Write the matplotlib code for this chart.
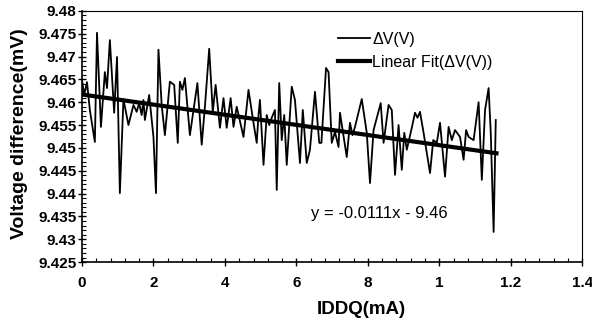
import numpy as np
import matplotlib
matplotlib.use('Agg')
import matplotlib.pyplot as plt
from matplotlib.ticker import FixedLocator, MultipleLocator

plt.rcParams['font.family'] = ['Liberation Sans', 'DejaVu Sans']

# IDDQ (mA) and voltage difference readings
iddq = [0.000, 0.006, 0.014, 0.022, 0.036, 0.042, 0.053, 0.064, 0.070, 0.078,
        0.090, 0.098, 0.106, 0.116, 0.130, 0.144, 0.153, 0.160, 0.167, 0.172,
        0.176, 0.188, 0.200, 0.207, 0.214, 0.223, 0.232, 0.246, 0.258, 0.268,
        0.274, 0.281, 0.288, 0.302, 0.323, 0.335, 0.344, 0.356, 0.366, 0.374,
        0.386, 0.396, 0.405, 0.416, 0.424, 0.433, 0.452, 0.466, 0.480, 0.489,
        0.494, 0.498, 0.508, 0.517, 0.524, 0.531, 0.540, 0.545, 0.552, 0.559,
        0.566, 0.573, 0.587, 0.596, 0.610, 0.618, 0.629, 0.638, 0.652, 0.664,
        0.670, 0.683, 0.690, 0.699, 0.708, 0.718, 0.722, 0.741, 0.750, 0.757,
        0.764, 0.783, 0.797, 0.806, 0.816, 0.836, 0.844, 0.858, 0.867, 0.876,
        0.886, 0.895, 0.902, 0.909, 0.923, 0.932, 0.939, 0.946, 0.956, 0.974,
        0.983, 0.993, 1.002, 1.016, 1.026, 1.035, 1.044, 1.058, 1.068, 1.075,
        1.082, 1.096, 1.110, 1.119, 1.128, 1.138, 1.144, 1.152, 1.158]
dv = [9.4649, 9.4616, 9.4644, 9.4583, 9.4513, 9.4752, 9.4546, 9.4666, 9.4631, 9.4736,
      9.4577, 9.4699, 9.4401, 9.4607, 9.4550, 9.4594, 9.4579, 9.4598, 9.4572, 9.4605,
      9.4561, 9.4616, 9.4524, 9.4401, 9.4715, 9.4594, 9.4528, 9.4645, 9.4638, 9.4511,
      9.4645, 9.4627, 9.4653, 9.4528, 9.4642, 9.4507, 9.4590, 9.4717, 9.4579, 9.4638,
      9.4544, 9.4609, 9.4544, 9.4609, 9.4546, 9.4590, 9.4524, 9.4627, 9.4555, 9.4511,
      9.4572, 9.4605, 9.4463, 9.4572, 9.4550, 9.4566, 9.4583, 9.4408, 9.4642, 9.4517,
      9.4572, 9.4463, 9.4634, 9.4605, 9.4467, 9.4583, 9.4467, 9.4496, 9.4623, 9.4511,
      9.4511, 9.4675, 9.4666, 9.4511, 9.4535, 9.4502, 9.4577, 9.4480, 9.4555, 9.4528,
      9.4546, 9.4607, 9.4533, 9.4423, 9.4539, 9.4598, 9.4511, 9.4594, 9.4583, 9.4441,
      9.4550, 9.4452, 9.4533, 9.4496, 9.4544, 9.4577, 9.4566, 9.4579, 9.4533, 9.4445,
      9.4517, 9.4511, 9.4555, 9.4437, 9.4546, 9.4517, 9.4539, 9.4524, 9.4474, 9.4539,
      9.4524, 9.4517, 9.4600, 9.4430, 9.4583, 9.4631, 9.4533, 9.4316, 9.4561]

fit_slope = -0.0111
fit_intercept = 9.4617
fit_x = [0.0, 1.16]

y_ticks = [9.425, 9.43, 9.435, 9.44, 9.445, 9.45, 9.455, 9.46, 9.465, 9.47, 9.475, 9.48]
x_ticks = [0.0, 0.2, 0.4, 0.6, 0.8, 1.0, 1.2, 1.4]
x_labels = ['0', '2', '4', '6', '8', '1', '1.2', '1.4']

fig = plt.figure(figsize=(5.92, 3.2), dpi=100)
ax = fig.add_axes([0.1385, 0.181, 0.845, 0.785])

ax.plot(iddq, dv, color='black', lw=1.3, label='ΔV(V)')
fx = np.array(fit_x)
ax.plot(fx, fit_intercept + fit_slope * fx, color='black', lw=3.0, label='Linear Fit(ΔV(V))')

ax.set_xlim(0, 1.4)
ax.set_ylim(9.425, 9.48)
ax.yaxis.set_major_locator(FixedLocator(y_ticks))
ax.set_yticklabels(['%g' % v for v in y_ticks])
ax.yaxis.set_minor_locator(MultipleLocator(0.001))
ax.xaxis.set_major_locator(FixedLocator(x_ticks))
ax.set_xticklabels(x_labels)
ax.xaxis.set_minor_locator(MultipleLocator(0.04))

ax.tick_params(axis='both', which='major', direction='inout', length=6, width=1,
               labelsize=11)
ax.tick_params(axis='y', which='major', pad=1)
ax.tick_params(axis='x', which='major', pad=7)
ax.tick_params(axis='both', which='minor', direction='in', length=3, width=0.8)
for lab in ax.get_xticklabels() + ax.get_yticklabels():
    lab.set_fontweight('bold')

for side in ['left', 'bottom']:
    ax.spines[side].set_linewidth(1.2)
for side in ['top', 'right']:
    ax.spines[side].set_linewidth(0.8)
    ax.spines[side].set_linestyle((0, (2, 1)))

ax.set_xlabel('IDDQ(mA)', fontsize=13.5, fontweight='bold')
ax.xaxis.set_label_coords(0.559, -0.155)
ax.set_ylabel('Voltage difference(mV)', fontsize=14, fontweight='bold')
ax.yaxis.set_label_coords(-0.108, 0.51)

ax.text(0.641, 9.4357, 'y = -0.0111x - 9.46', fontsize=12, va='center', ha='left')

ax.legend(loc='upper left', bbox_to_anchor=(0.512, 0.916), frameon=False,
          fontsize=11.5, borderpad=0, borderaxespad=0, handlelength=2.0,
          handletextpad=0.15, labelspacing=0.5)

fig.savefig('out.png', dpi=100)
